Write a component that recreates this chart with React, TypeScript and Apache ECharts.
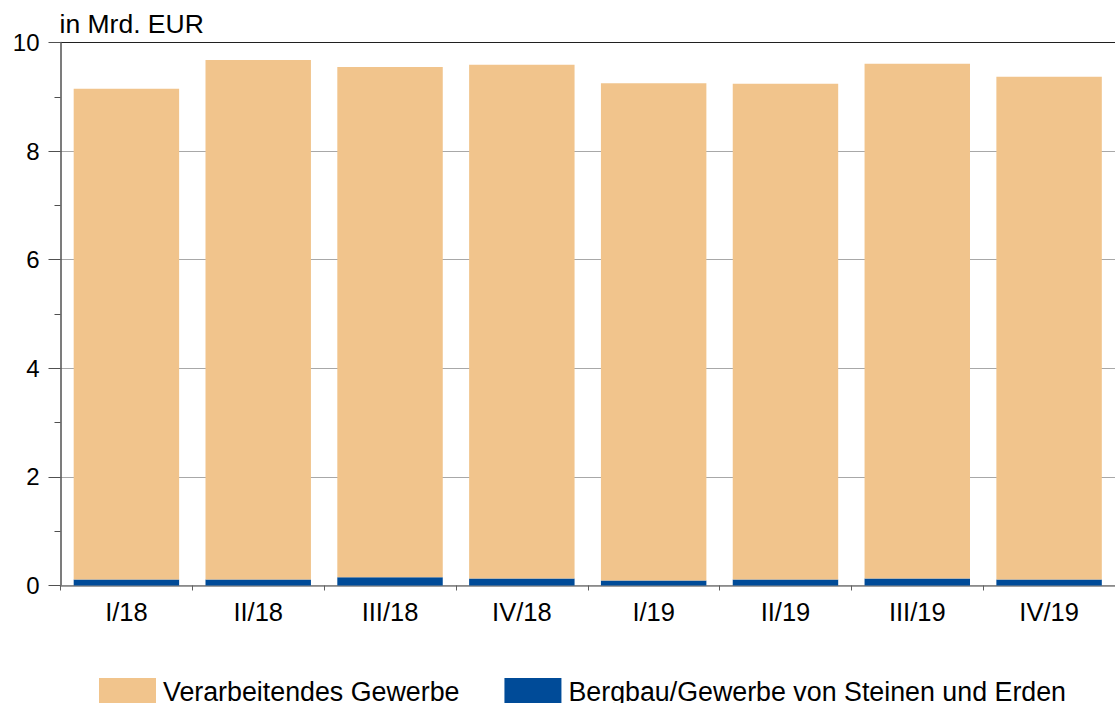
import React, { useEffect, useRef } from "react";
import * as echarts from "echarts";

const categories = ["I/18", "II/18", "III/18", "IV/18", "I/19", "II/19", "III/19", "IV/19"];
const verarbeitend = [9.04, 9.57, 9.40, 9.46, 9.16, 9.13, 9.48, 9.26];
const bergbau = [0.11, 0.11, 0.15, 0.13, 0.09, 0.11, 0.13, 0.11];
const yTicks = [0, 2, 4, 6, 8, 10];

const FONT = "Liberation Sans, Arial, sans-serif";

export default function App() {
  const ref = useRef<HTMLDivElement>(null);
  useEffect(() => {
    if (!ref.current) return;
    const chart = echarts.init(ref.current, null, { renderer: "svg" });
    chart.setOption({
      animation: false,
      textStyle: { fontFamily: FONT },
      grid: { left: 60.5, top: 42.5, right: -10, bottom: 117.5, containLabel: false },
      legend: {
        left: 99,
        top: 678,
        padding: 0,
        itemWidth: 57,
        itemHeight: 28,
        itemGap: 45,
        icon: "rect",
        data: ["Verarbeitendes Gewerbe", "Bergbau/Gewerbe von Steinen und Erden"],
        textStyle: { fontSize: 26.8, color: "#000", fontFamily: FONT, padding: [0, 0, 0, 2] },
      },
      xAxis: {
        type: "category",
        data: categories,
        axisLine: { lineStyle: { color: "#808080", width: 1.5 } },
        axisTick: { show: true, length: 5, alignWithLabel: false, lineStyle: { color: "#606060" } },
        axisLabel: { fontSize: 25.5, color: "#000", margin: 13, fontFamily: FONT },
      },
      yAxis: {
        type: "value",
        min: 0,
        max: 10,
        interval: 2,
        name: "in Mrd. EUR",
        nameLocation: "end",
        nameGap: 5,
        nameTextStyle: { fontSize: 26.5, color: "#000", align: "left", fontFamily: FONT, padding: [0, 0, 0, -1] },
        axisLine: { show: true, lineStyle: { color: "#505050", width: 1.5 } },
        axisTick: { show: true, length: 12, lineStyle: { color: "#505050" } },
        minorTick: { show: true, splitNumber: 2, length: 6, lineStyle: { color: "#505050" } },
        axisLabel: {
          fontSize: 24,
          color: "#000",
          margin: 21,
          fontFamily: FONT,
          formatter: (v: number) => (yTicks.includes(v) ? String(v) : ""),
        },
        splitLine: {
          show: true,
          lineStyle: { color: ["#a8a8a8", "#a8a8a8", "#a8a8a8", "#a8a8a8", "#a8a8a8", "#202020"], width: 1 },
        },
      },
      series: [
        {
          name: "Bergbau/Gewerbe von Steinen und Erden",
          type: "bar",
          stack: "total",
          data: bergbau,
          barCategoryGap: "20%",
          itemStyle: { color: "#004B98" },
        },
        {
          name: "Verarbeitendes Gewerbe",
          type: "bar",
          stack: "total",
          data: verarbeitend,
          barCategoryGap: "20%",
          itemStyle: { color: "#F1C48C" },
        },
      ],
    });
    return () => chart.dispose();
  }, []);
  return (
    <div
      ref={ref}
      style={{ position: "fixed", left: 0, top: 0, width: 1115, height: 703, background: "#fff" }}
    />
  );
}
